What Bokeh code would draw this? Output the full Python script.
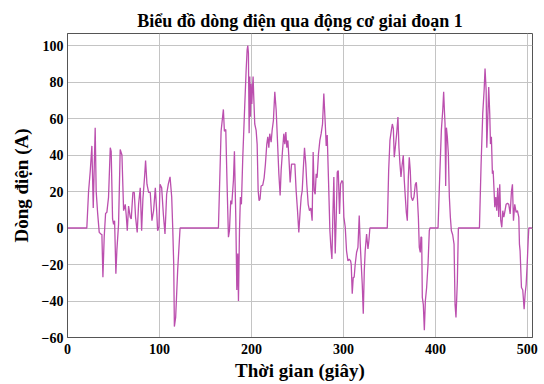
from bokeh.plotting import figure
from bokeh.models import Range1d, FixedTicker
from bokeh.embed import file_html
from bokeh.resources import INLINE

time_s = [0, 21.0, 22.9, 24.7, 26.5, 28.0, 30.1, 31.2, 32.7, 34.5, 36.3, 37.4, 38.5, 39.9, 41.4, 42.8,
          44.6, 46.5, 47.5, 49.0, 50.1, 51.2, 52.6, 53.7, 55.5, 57.3, 59.2, 61.0, 62.8, 63.9, 65.0, 66.4,
          68.2, 69.3, 71.1, 72.6, 74.0, 75.8, 77.3, 79.1, 80.6, 82.0, 83.8, 84.9, 86.4, 88.2, 90.0, 91.8,
          93.6, 95.5, 96.9, 98.0, 99.4, 100.6, 102.4, 104.2, 106.0, 107.8, 109.6, 111.5, 113.3, 114.4,
          115.5, 116.2, 117.6, 119.8, 122.4, 164.1, 167.0, 169.5, 170.6, 172.1, 173.5, 175.0, 176.1,
          177.5, 178.6, 180.4, 181.5, 183.0, 184.1, 185.1, 185.9, 187.0, 188.0, 189.1, 190.6, 192.4,
          194.2, 195.3, 196.0, 196.7, 197.5, 198.2, 198.9, 199.6, 200.4, 201.1, 201.8, 202.5, 203.6,
          205.1, 206.2, 207.3, 208.3, 209.4, 210.5, 212.3, 213.8, 215.2, 216.7, 217.8, 218.9, 219.9,
          221.4, 222.5, 223.9, 225.4, 226.9, 228.3, 229.8, 231.2, 232.3, 233.8, 235.2, 236.3, 237.4,
          238.5, 239.6, 240.7, 242.1, 243.6, 245.0, 247.2, 248.6, 250.1, 251.5, 253.0, 254.1, 255.2,
          256.3, 257.7, 259.1, 260.2, 261.7, 263.1, 264.6, 266.0, 267.1, 268.2, 269.3, 270.4, 271.4,
          272.9, 274.4, 275.8, 277.3, 278.7, 280.6, 281.3, 282.4, 283.8, 285.3, 286.4, 287.5, 288.5,
          289.6, 291.1, 292.2, 293.3, 294.4, 295.8, 296.9, 298.4, 299.4, 300.5, 302.0, 303.4, 304.9,
          306.3, 307.8, 308.5, 309.6, 310.7, 311.7, 312.8, 314.3, 315.8, 317.2, 318.3, 319.4, 320.5,
          321.6, 322.7, 323.7, 325.2, 326.7, 327.7, 328.8, 347.7, 349.2, 350.6, 352.1, 353.2, 354.3,
          355.3, 356.4, 357.9, 359.3, 360.4, 361.5, 362.6, 363.7, 365.1, 366.2, 367.3, 368.4, 369.5,
          370.6, 371.6, 372.7, 373.8, 375.3, 376.7, 378.2, 379.3, 380.4, 381.5, 382.5, 383.6, 384.3,
          385.1, 385.8, 386.9, 388.0, 389.1, 390.5, 392.0, 393.4, 394.1, 402.9, 404.3, 406.5, 408.0,
          409.0, 409.8, 410.5, 411.2, 412.0, 413.0, 414.1, 415.2, 416.3, 417.4, 418.8, 420.3, 421.4,
          422.4, 423.9, 425.0, 447.9, 449.7, 451.5, 453.0, 454.0, 455.2, 455.9, 457.0, 458.0, 459.1,
          459.9, 460.9, 462.0, 462.8, 463.5, 464.6, 465.7, 466.7, 467.8, 468.9, 470.0, 471.1, 472.2,
          473.3, 474.4, 475.4, 476.9, 478.4, 479.8, 481.3, 482.7, 483.8, 484.9, 486.3, 487.8, 489.2,
          490.7, 491.4, 492.1, 493.6, 495.0, 496.5, 497.6, 498.7, 499.8, 500.9, 501.6, 505.0]

current_a = [0, 0, 20, 31, 45, 11, 55, 20, 8.6, -2.4, -3.3, -3.6, -27, -5, 8, 8.6,
             16.8, 44, 42, 5, 2, 4, -25, -12, 2, 43, 40, 9.5, 13, 6.7, -1.5, 12,
             6, 5, 19.5, 19.5, 6, -2.4, 13, 22, -1.5, 16, 28, 37, 24, 19.5, 19.5, 4,
             9.5, 22, 10, -1.5, 0.4, 24, 22, 7.7, -3.3, 18.5, 24, 28, 17, 0.4,
             -20, -54, -49, -23, 0, 0, 53, 65, 53, 54, 24, -5, -1.5,
             15, 13, 26, 42, 5.5, -34, -14, -40, -1.5, 17, 13, 39, 63,
             86, 97.5, 100, 96, 52, 83, 61, 79, 68, 76, 83, 72, 57,
             53.5, 46, 20.5, 15, 16, 23, 23.5, 27.5, 35, 46, 50, 44, 51.7,
             47, 53.5, 59, 74.6, 64.5, 48, 29.7, 17.8, 31.5, 42.5, 51.7, 46, 52.6,
             44, 48, 38.8, 25, 35, 35, 35, 20.5, 9.5, -2.4, 9.5, 17, 20.5,
             31.5, 44, 35, 24, 13, 9.5, 11, 4, 41.6, 20.5, 18.5, 29.7, 27.5,
             40.7, 48, 51.7, 57, 73.7, 53.5, 45, 51, 26, -1.5, -10.6, -17, 6,
             28, -14, 6, 30.6, 31.5, 7.7, 24, 26, 25, 6, 0.4, -12.5, -18,
             -17, -18, -20, -36, -27, -27, -20, -13.4, -10.6, 6.8, -8.8, -20, -31,
             -47, -23.5, -12.5, -3.3, -11.5, -7, 0, 0, 31.5, 48, 53.5, 57, 54.5,
             38.8, 44, 51.7, 60.8, 44, 35, 28, 34, 39.8, 26, 17, 8.6, 4,
             28, 38.8, 31.5, 17, 15, 17, 24, 25, 17, 6, -10.6, -13.4, -5,
             -5, -38, -42, -56, -40, -32.6, -20, -1.5, 0, 0, 22, 53.5, 64.5,
             74.6, 64.5, 57, 23, 55, 50, 40.7, 17, 5.9, -1.5, -3.7, -8.8, -42,
             -49, -29, 0, 0, 35, 62.7, 75.5, 87.4, 75.5, 44, 60.8, 77.3, 62.7,
             46, 50, 29.7, 31.5, 24, 11.4, 17, 9.5, 22, 6, 24, 4, 0.4,
             9.5, 6, 8.6, 13, 13.5, 13, 7.7, 20, 24, 4, 13, 8.6, 9.5,
             6, -8.8, -12.5, -32.6, -34, -44.5, -36, -31, -20, -7, 0, 0]

x_ticks = [0, 100, 200, 300, 400, 500]
y_ticks = [-60, -40, -20, 0, 20, 40, 60, 80, 100]

title_text = "Biểu đồ dòng điện qua động cơ giai đoạn 1"
x_label = "Thời gian (giây)"
y_label = "Dòng điện (A)"

FONT = "Liberation Serif"

p = figure(width=544, height=384, output_backend="svg", toolbar_location=None,
           x_range=Range1d(0, 505.6), y_range=Range1d(-60, 106.6),
           min_border_left=67, min_border_right=12, min_border_top=33, min_border_bottom=47,
           title=title_text)

p.line(time_s, current_a, line_color="#bb4fae", line_width=1.3)

p.title.align = "center"
p.title.text_font = FONT
p.title.text_font_size = "18px"
p.title.text_font_style = "bold"
p.title.text_color = "black"
p.title.standoff = 6

for ax in (p.xaxis[0], p.yaxis[0]):
    ax.major_label_text_font = FONT
    ax.major_label_text_font_size = "14px"
    ax.major_label_text_font_style = "bold"
    ax.major_label_text_color = "black"
    ax.axis_label_text_font = FONT
    ax.axis_label_text_font_size = "19px"
    ax.axis_label_text_font_style = "bold"
    ax.axis_label_text_color = "black"
    ax.axis_line_color = "#555555"
    ax.major_tick_in = 0
    ax.major_tick_out = 0
    ax.minor_tick_in = 0
    ax.minor_tick_out = 0

p.xaxis.major_label_standoff = 6
p.xaxis.axis_label_standoff = 3
p.yaxis.major_label_standoff = 4
p.yaxis.axis_label_standoff = 7

p.xaxis.ticker = FixedTicker(ticks=x_ticks)
p.yaxis.ticker = FixedTicker(ticks=y_ticks)
p.xaxis.axis_label = x_label
p.yaxis.axis_label = y_label

p.xgrid.ticker = FixedTicker(ticks=x_ticks)
p.ygrid.ticker = FixedTicker(ticks=y_ticks)
p.grid.grid_line_color = "#c4c4c4"
p.grid.grid_line_width = 1

p.outline_line_color = "#555555"
p.background_fill_color = "white"
p.border_fill_color = "white"

open("out.html", "w").write(file_html(p, INLINE))
